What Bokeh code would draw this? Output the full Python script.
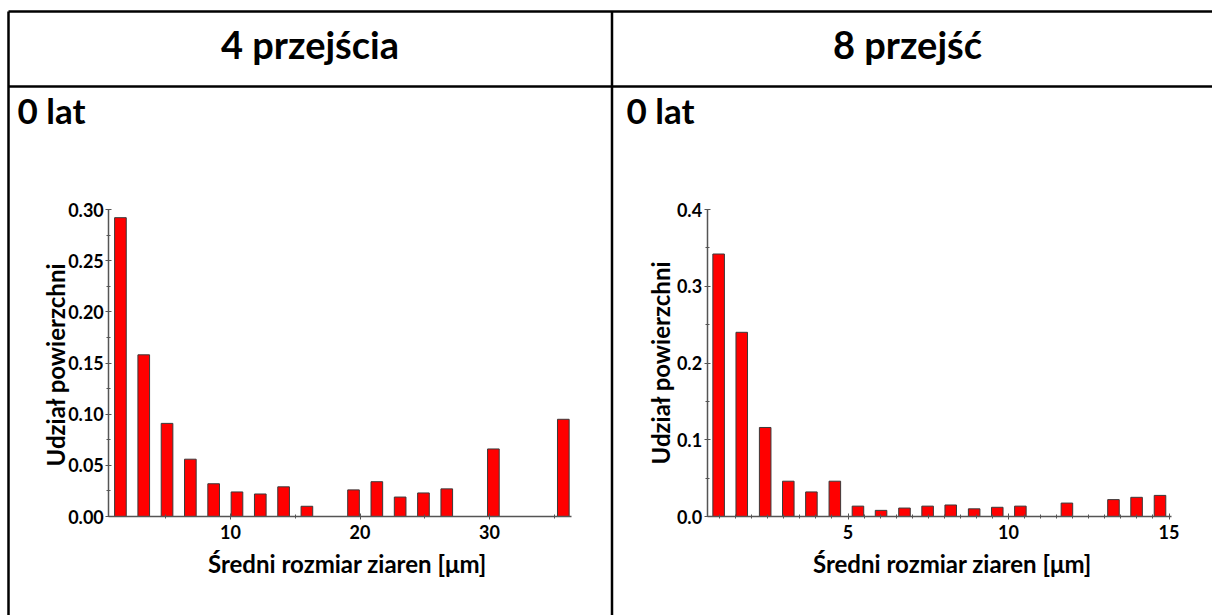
import math
from bokeh.plotting import figure
from bokeh.models import (Range1d, LinearAxis, SingleIntervalTicker, Grid,
                          PrintfTickFormatter, ColumnDataSource)
from bokeh.core.properties import value
from bokeh.embed import file_html
from bokeh.resources import INLINE

# ---------------- data ----------------
headers = ["4 przejścia", "8 przejść"]
subtitles = ["0 lat", "0 lat"]
y_title = "Udział powierzchni"
x_title = "Średni rozmiar ziaren [μm]"

left_bin_centers = [1.5, 3.3, 5.1, 6.9, 8.7, 10.5, 12.3, 14.1, 15.9, 17.7,
                    19.5, 21.3, 23.1, 24.9, 26.7, 28.5, 30.3, 32.1, 33.9, 35.7]
left_shares = [0.292, 0.158, 0.091, 0.056, 0.032, 0.024, 0.022, 0.029, 0.010, 0.0,
               0.026, 0.034, 0.019, 0.023, 0.027, 0.0, 0.066, 0.0, 0.0, 0.095]

right_bin_centers = [0.97, 1.69, 2.42, 3.14, 3.86, 4.59, 5.31, 6.03, 6.76, 7.48,
                     8.20, 8.93, 9.65, 10.37, 11.10, 11.82, 12.55, 13.27, 13.99, 14.72]
right_shares = [0.342, 0.240, 0.116, 0.046, 0.032, 0.046, 0.0135, 0.008, 0.011, 0.0135,
                0.015, 0.010, 0.012, 0.0135, 0.0, 0.0175, 0.0, 0.022, 0.025, 0.0275]

left_x_tick_interval, left_y_tick_interval = 10, 0.05
right_x_tick_interval, right_y_tick_interval = 5, 0.1
left_x_extent, left_y_extent = (0.6, 36.3), (0.0, 0.30)
right_x_extent, right_y_extent = (0.61, 15.07), (0.0, 0.40)

# ---------------- layout helpers ----------------
W, H = 1212, 615
FONT = "Lato"


def range_from_pixels(v0, p0, v1, p1, total, vertical=False):
    s = (p1 - p0) / (v1 - v0)

    def v(q):
        return v0 + (q - p0) / s
    if vertical:
        return Range1d(start=v(total), end=v(0))
    return Range1d(start=v(0), end=v(total))


p = figure(width=W, height=H, x_range=Range1d(0, W), y_range=Range1d(H, 0),
           x_axis_location=None, y_axis_location=None,
           toolbar_location=None, output_backend="svg", min_border=0)
p.outline_line_color = None
p.background_fill_color = "white"
p.border_fill_color = "white"
p.center = [c for c in p.center if not isinstance(c, Grid)]

p.extra_x_ranges = {
    "lx": range_from_pixels(10, 230, 30, 489, W),
    "rx": range_from_pixels(10, 1008, 15, 1168.5, W),
}
p.extra_y_ranges = {
    "ly": range_from_pixels(0, 516, 0.30, 209, H, vertical=True),
    "ry": range_from_pixels(0, 516, 0.40, 209, H, vertical=True),
}

# ---------------- table frame ----------------
p.segment(x0=[8, 8, 8, 611.5], y0=[11, 86, 11, 11],
          x1=[W + 4, W + 4, 8, 611.5], y1=[11, 86, H, H],
          line_color="black", line_width=2.5)

p.text(x=[309.5, 907], y=[43, 43], text=headers,
       text_font=value(FONT), text_font_style="bold", text_font_size="38px",
       text_align="center", text_baseline="alphabetic", text_color="black")
p.text(x=[17, 626], y=[109, 109], text=subtitles,
       text_font=value(FONT), text_font_style="bold", text_font_size="35px",
       text_align="left", text_baseline="alphabetic", text_color="black")

# axis titles
p.text(x=[347, 952], y=[563, 563], text=[x_title, x_title],
       text_font=value(FONT), text_font_style="bold", text_font_size="24px",
       text_align="center", text_baseline="alphabetic", text_color="black")
p.text(x=[55, 660], y=[364, 362], text=[y_title, y_title], angle=math.pi / 2,
       text_font=value(FONT), text_font_style="bold", text_font_size="24px",
       text_align="center", text_baseline="alphabetic", text_color="black")


# ---------------- charts ----------------
def add_chart(xr, yr, centers, shares, bar_w, x_int, y_int, x_minor, y_minor,
              x_ext, y_ext, y_fmt):
    src = ColumnDataSource(dict(
        x=[c for c, s in zip(centers, shares) if s > 0],
        top=[s for s in shares if s > 0]))
    p.vbar(x="x", top="top", bottom=0, width=bar_w, source=src,
           x_range_name=xr, y_range_name=yr,
           fill_color="#ff0000", line_color="#3a3a3a", line_width=1)

    common = dict(x_range_name=xr, y_range_name=yr,
                  axis_line_color="#555555", axis_line_width=1.5,
                  major_tick_line_color="#555555", minor_tick_line_color="#555555",
                  major_tick_in=3, major_tick_out=3, minor_tick_in=2, minor_tick_out=2,
                  major_label_text_font=FONT, major_label_text_font_style="bold",
                  major_label_text_font_size="18px", major_label_text_color="black")
    xa = LinearAxis(fixed_location=y_ext[0], bounds=(x_ext[0], x_ext[1] + 1e-6),
                    ticker=SingleIntervalTicker(interval=x_int, num_minor_ticks=x_minor),
                    formatter=PrintfTickFormatter(format="%d"),
                    major_label_standoff=5, **common)
    p.add_layout(xa, "below")
    ya = LinearAxis(fixed_location=x_ext[0], bounds=(y_ext[0], y_ext[1] + 1e-6),
                    ticker=SingleIntervalTicker(interval=y_int, num_minor_ticks=y_minor),
                    formatter=PrintfTickFormatter(format=y_fmt),
                    major_label_standoff=2, **common)
    p.add_layout(ya, "left")


add_chart("lx", "ly", left_bin_centers, left_shares, 0.9,
          left_x_tick_interval, left_y_tick_interval, 2, 2,
          left_x_extent, left_y_extent, "%.2f")
add_chart("rx", "ry", right_bin_centers, right_shares, 0.36,
          right_x_tick_interval, right_y_tick_interval, 10, 2,
          right_x_extent, right_y_extent, "%.1f")

open("out.html", "w").write(file_html(p, INLINE))
